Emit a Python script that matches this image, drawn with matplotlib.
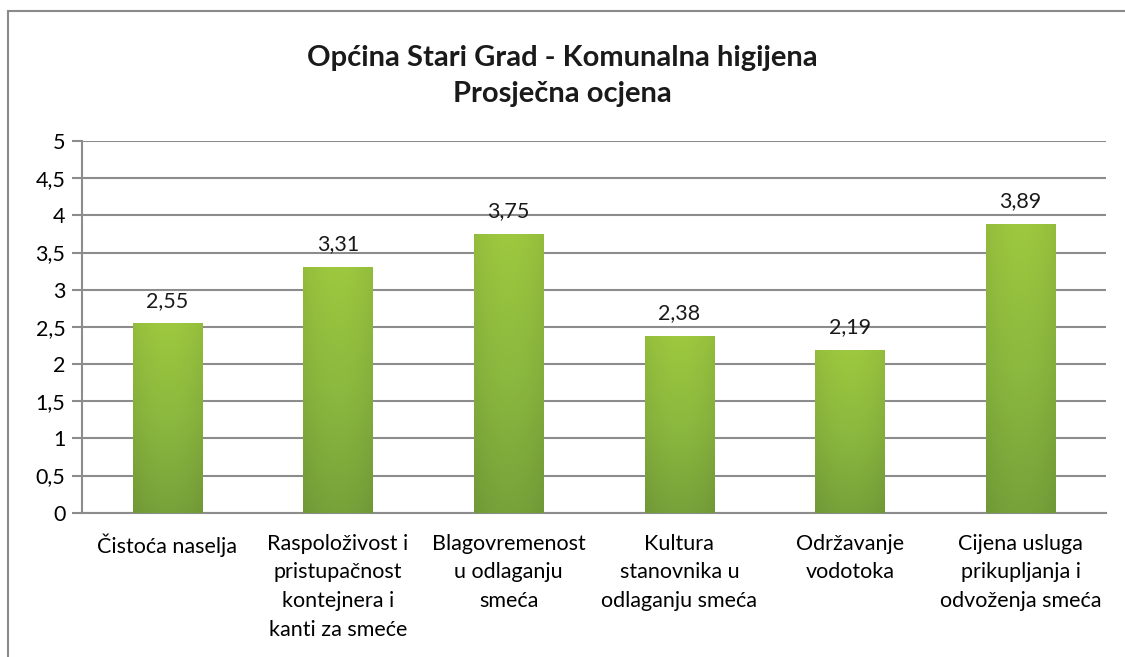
import numpy as np
import matplotlib
matplotlib.use("Agg")
import matplotlib.pyplot as plt
from matplotlib.colors import LinearSegmentedColormap
from matplotlib.patches import Rectangle

plt.rcParams['font.family'] = ['Lato', 'DejaVu Sans']

# data
categories = [
    "Čistoća naselja",
    "Raspoloživost i\npristupačnost\nkontejnera i\nkanti za smeće",
    "Blagovremenost\nu odlaganju\nsmeća",
    "Kultura\nstanovnika u\nodlaganju smeća",
    "Održavanje\nvodotoka",
    "Cijena usluga\nprikupljanja i\nodvoženja smeća",
]
values = [2.55, 3.31, 3.75, 2.38, 2.19, 3.89]
yticks = [0, 0.5, 1, 1.5, 2, 2.5, 3, 3.5, 4, 4.5, 5]
title = "Općina Stari Grad - Komunalna higijena\nProsječna ocjena"

grid_col = "#8c8c8c"
fs = 15.5

fig = plt.figure(figsize=(11.25, 6.57), dpi=100)
# outer chart border (cut off at right and bottom like the screenshot)
fig.patches.append(Rectangle((8 / 1125, -0.1), 1.2, 1 - 11 / 657 + 0.1,
                             transform=fig.transFigure, fill=False,
                             edgecolor="#8a8a8a", linewidth=1.5))

ax = fig.add_axes([82 / 1125, 1 - 512.7 / 657, (1106 - 82) / 1125, (512.7 - 141) / 657])

x = np.arange(len(values))
bars = ax.bar(x, values, width=0.405, color="none", zorder=3)

# vertical green gradient, slightly darker at the sides
green = LinearSegmentedColormap.from_list("g", ["#77a23a", "#8cb93f", "#9dc83f"])
v = np.linspace(0, 1, 256)[:, None]
h = 1 - 0.06 * np.abs(np.linspace(-1, 1, 64))[None, :] ** 2
img = green(v)[:, :, :3] * h[:, :, None]
for b in bars:
    x0, y0 = b.get_x(), b.get_y()
    w, hgt = b.get_width(), b.get_height()
    im = ax.imshow(img, extent=[x0, x0 + w, y0, y0 + hgt], origin="lower",
                   aspect="auto", zorder=3)
    im.set_clip_path(b)

for xi, val in zip(x, values):
    ax.annotate(f"{val:.2f}".replace(".", ","), (xi, val), xytext=(0, 9),
                textcoords="offset points", ha="center", va="bottom",
                fontsize=fs, color="#1a1a1a")

ax.set_xlim(-0.5, len(values) - 0.5)
ax.set_ylim(0, 5)
ax.set_yticks(yticks)
ax.set_yticklabels([f"{t:g}".replace(".", ",") for t in yticks], fontsize=fs)
ax.set_xticks(x)
ax.set_xticklabels(categories, fontsize=fs, linespacing=1.55)
ax.tick_params(axis="x", length=0, pad=15)
ax.tick_params(axis="y", length=7, width=1.5, color=grid_col, pad=5)
ax.yaxis.grid(True, color=grid_col, linewidth=1.5, zorder=0)
ax.set_axisbelow(True)
for s in ["top", "right"]:
    ax.spines[s].set_visible(False)
for s in ["left", "bottom"]:
    ax.spines[s].set_color(grid_col)
    ax.spines[s].set_linewidth(1.5)

fig.text(0.5, 1 - 76 / 657, title, ha="center", va="center", fontsize=21,
         fontweight="bold", linespacing=1.45, color="#1a1a1a")

fig.savefig("out.png", dpi=100)
